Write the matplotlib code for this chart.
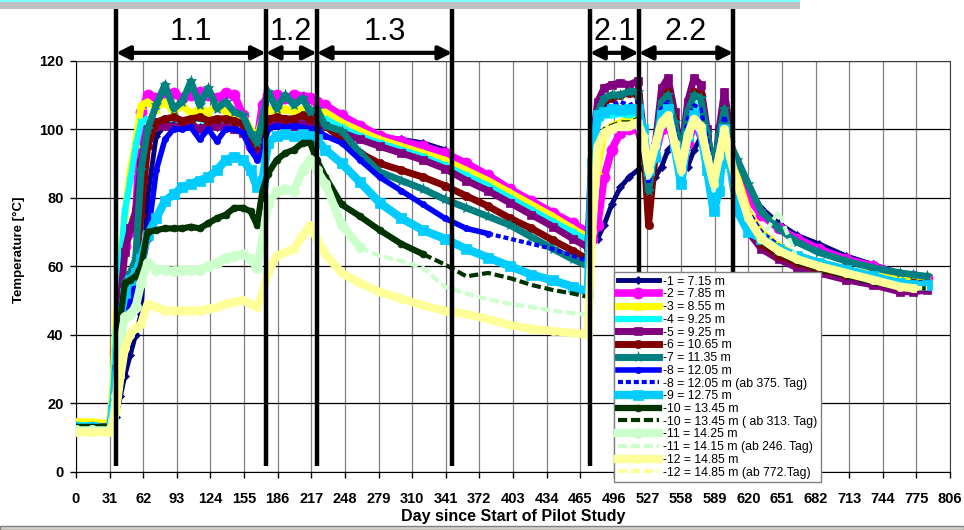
import matplotlib
matplotlib.use('Agg')
import matplotlib.pyplot as plt
from matplotlib.patches import Rectangle
import pandas as pd

plt.rcParams['font.family'] = ['Liberation Sans', 'DejaVu Sans']

# Day grid shared by all probes
days = [0, 15, 31,
        34, 37, 41, 45, 50, 55, 60,
        66, 74, 82, 90, 98, 106, 114, 122, 130, 138, 146, 154, 161, 167, 172,
        177, 185, 193, 201, 209, 216, 222,
        230, 245, 262, 280, 300, 320, 340, 360, 380, 400, 420, 440, 458, 472,
        476, 481, 487, 494, 502, 510, 518,
        523, 528, 534, 540, 546, 552, 558, 564, 570, 576, 582, 588, 593, 598, 603,
        610, 620, 632, 648, 665, 685, 710, 735, 760, 772, 785]

t1 = [13, 13, 13,
      14, 16, 22, 28, 34, 40, 46,
      80, 98, 101, 101.5, 101, 101, 100.5, 101, 100.5, 100.5, 100, 99, 95, 92, 98,
      101, 101.5, 101, 101, 101.5, 101, 102,
      101, 100, 99, 98, 97, 96, 94, 89.5, 86, 82, 78.5, 75, 72, 69.5,
      68, 68, 72, 78, 83, 86, 88,
      89, 87, 86, 89, 94, 96, 92, 89, 94, 97.5, 96, 93, 91, 90, 91,
      89, 82, 77, 72.5, 69, 66.5, 63, 60.5, 58, 57, 56.5]
t2 = [13.5, 13.5, 13.5,
      20, 35, 55, 66, 70, 74, 105,
      110, 109, 110, 110.5, 109, 110, 111, 110, 109, 110.5, 110, 104, 95, 97, 107,
      110, 110, 109, 110, 109.5, 109, 108,
      107, 104, 101, 98, 96.5, 95, 93, 90, 86.5, 82.5, 79, 75.5, 72.5, 70,
      68, 72, 86, 94, 99, 100, 100,
      95, 88, 92, 100, 102, 95, 88, 96, 101, 99, 92, 85, 90, 95, 92,
      88, 80, 75, 71, 68, 65, 62, 60, 57.5, 57, 56.5]
t3 = [14.5, 14.5, 14,
      25, 45, 62, 75, 88, 96, 107,
      108, 106, 108, 105, 107, 104.5, 106, 105, 107, 105, 104.5, 104, 100, 98, 103,
      106, 105, 106, 105, 106, 104, 105,
      105, 102, 99.5, 97, 95, 93, 91, 88, 85, 81.5, 78, 74.5, 71, 68.5,
      72, 88, 99, 101, 102, 103, 103,
      97, 85, 95, 105, 107, 98, 88, 100, 106, 104, 94, 84, 93, 102, 94,
      86, 76, 70, 66, 63, 61, 59, 57.5, 56, 56.5, 57]
t4 = [13.5, 13.5, 13,
      22, 40, 60, 76, 85, 95, 102,
      103, 102, 103, 103, 102.5, 103, 103, 102, 103, 102.5, 102, 101, 97, 96, 100,
      103, 103, 102.5, 103, 103, 102, 103,
      103, 100.5, 98, 96, 94, 92, 89.5, 86.5, 83.5, 80, 76.5, 73, 70, 67.5,
      90, 102, 104, 104, 104.5, 104, 105,
      100, 85, 95, 106, 108, 98, 88, 102, 107, 104, 94, 82, 94, 104, 94,
      82, 74, 69, 65, 62.5, 60, 58, 56.5, 55, 54.5, 54]
t5 = [13, 13, 13,
      18, 30, 50, 64, 71, 76, 90,
      100, 101, 101, 100.5, 101, 101.5, 100, 101, 101, 100.5, 100, 99, 95, 93, 99,
      101, 101.5, 101, 101, 101.5, 101, 101,
      101, 99, 97, 95, 93, 91, 88.5, 85, 82, 78.5, 75, 71.5, 68, 65.5,
      95, 108, 112, 113, 113.5, 113, 114,
      100, 82, 95, 112, 115, 105, 92, 108, 115, 113, 100, 85, 100, 111, 100,
      80, 70, 65, 62, 59.5, 58, 56, 54.5, 52.5, 52.5, 53]
t6 = [13, 13, 13,
      16, 25, 40, 50, 55, 60, 75,
      95, 102, 103, 103.5, 102.5, 103, 103.5, 102.5, 103, 103, 102.5, 101.5, 97, 95, 101,
      103, 103.5, 103, 103, 104, 103, 104,
      101, 97, 93, 90, 88, 86, 83.5, 80.5, 77.5, 74, 71, 67.5, 64.5, 62,
      85, 104, 108, 109, 110, 110.5, 110,
      98, 72, 92, 108, 111, 103, 90, 104, 111, 110, 98, 86, 98, 106, 97,
      80, 71, 66.5, 63, 61, 59, 57.5, 56, 54.5, 55, 55]
t7 = [13, 13, 13,
      16, 24, 40, 55, 58, 62, 88,
      100, 107, 113, 106, 108, 114, 107, 112, 106, 108, 105, 104, 99, 96, 103,
      111, 106, 110, 107, 109, 105, 106,
      101, 99.5, 93, 87.5, 85, 82.5, 79.5, 77, 74.5, 72, 68.5, 65, 62, 60,
      90, 105, 109, 110, 110, 111, 111,
      99, 82, 94, 108, 110, 102, 92, 105, 110, 109, 99, 88, 98, 106, 96,
      91, 84, 76, 71, 67, 64, 61.5, 59.5, 58, 57.5, 57]
t8 = [13, 13, 13,
      15, 20, 35, 46, 50, 54, 58,
      68, 88, 97, 100, 100, 100.5, 97, 100, 96.5, 100, 100, 99, 94, 91, 93,
      100, 101, 100.5, 101, 100.5, 100, 100,
      98, 96, 91, 86, 82, 78, 74, 71, 69.5, 68, 66.5, 65, 63, 61.5,
      88, 104, 106, 107, 108, 107, 108,
      98, 84, 93, 106, 108, 100, 90, 103, 107, 106, 97, 86, 96, 104, 95,
      84, 76, 70, 66, 63, 61, 59, 57, 55.5, 55, 55]
t9 = [13, 13, 12.5,
      18, 28, 45, 52, 56, 58, 62,
      69, 74, 79, 81, 83, 84, 85, 86, 88, 91, 92, 91, 88, 83, 85,
      96, 98, 98.5, 98, 98.5, 98, 97,
      94, 90, 84.5, 78.5, 74, 70.5, 68, 65, 62.5, 60, 57.5, 55.8, 54, 52.5,
      90, 104, 105, 106, 105.5, 106, 106,
      100, 88, 92, 104, 106, 95, 84, 98, 104, 100, 88, 76, 82, 100, 90,
      76, 70, 68, 65, 63, 61, 59, 57, 55, 54.5, 54.5]
t10 = [13, 13, 13,
       16, 25, 45, 55, 56, 57, 60,
       70, 70.5, 71, 71, 71, 71.5, 71, 72.5, 74, 75, 77, 77, 76, 72, 82,
       87, 91, 93, 94, 96, 96, 91,
       86, 78, 74.5, 70.5, 66.5, 63.5, 60.5, 57, 58, 56.5, 54.5, 53, 52, 51,
       70, 96, 100, 101, 102, 102, 103,
       96, 86, 94, 101, 103, 95, 87, 97, 102, 100, 91, 83, 91, 99, 91,
       83, 73, 67, 63.5, 61, 59, 57, 55, 53.5, 53.5, 53.5]
t11 = [12, 12, 12,
       15, 22, 38, 45, 46, 48, 55,
       61, 59, 59, 58.5, 59, 59, 59, 60, 61, 62.5, 63, 63.5, 62, 59.5, 68,
       78, 82, 82.5, 82, 88, 91, 88,
       84, 72, 65.5, 63, 61.5, 59.5, 54, 52, 50.3, 49, 48, 47, 46.2, 45.7,
       65, 94, 98, 99, 100, 100, 101,
       95, 85, 93, 100, 102, 94, 86, 96, 101, 99, 90, 82, 90, 98, 90,
       84, 74, 68, 76, 62, 60, 58, 56, 54, 53.5, 53.5]
t12 = [11.5, 11.5, 11.5,
       13, 18, 28, 36, 40, 42, 43,
       49, 48, 47, 47, 47, 47, 47, 47.5, 48, 49, 49.5, 50, 49, 48, 52,
       58, 63, 64, 65, 69, 72, 68,
       63.5, 58, 55, 52.5, 50.5, 48.5, 47, 46, 44.5, 42.8, 41.7, 41, 40.5, 40,
       70, 95, 99, 100, 101, 101, 102,
       98, 88, 95, 102, 104, 96, 88, 98, 103, 101, 92, 84, 92, 100, 92,
       84, 74, 68, 64.5, 62, 60, 58, 56, 54, 53.5, 53.5]

labels = ['-1 = 7.15 m', '-2 = 7.85 m', '-3 = 8.55 m', '-4 = 9.25 m', '-5 = 9.25 m',
          '-6 = 10.65 m', '-7 = 11.35 m', '-8 = 12.05 m', '-9 = 12.75 m',
          '-10 = 13.45 m', '-11 = 14.25 m', '-12 = 14.85 m']
# later sensor records, drawn as dashed continuation: series index -> (start day, label)
continuations = {7: (375, '-8 = 12.05 m (ab 375. Tag)'),
                 9: (313, '-10 = 13.45 m ( ab 313. Tag)'),
                 10: (246, '-11 = 14.15 m (ab 246. Tag)'),
                 11: (772, '-12 = 14.85 m (ab 772.Tag)')}

phase_days = [37, 175, 222, 347, 474, 519, 606]
phase_spans = [(37, 175), (175, 222), (222, 347), (474, 519), (519, 606)]
phase_names = ['1.1', '1.2', '1.3', '2.1', '2.2']

df = pd.DataFrame({'day': days, 't1': t1, 't2': t2, 't3': t3, 't4': t4, 't5': t5,
                   't6': t6, 't7': t7, 't8': t8, 't9': t9, 't10': t10,
                   't11': t11, 't12': t12})

# colour, marker, marker size, line width
styles = [('#000080', 'D', 4, 3.5),
          ('#FF00FF', 'o', 8, 5.5),
          ('#FFFF00', '^', 6, 5),
          ('#00FFFF', 'x', 5, 4.5),
          ('#800080', 's', 6, 5),
          ('#800000', 'o', 6, 5),
          ('#008080', '*', 8, 5),
          ('#0000FF', 'o', 4.5, 4),
          ('#00CCFF', 's', 7, 6),
          ('#003300', 'o', 5, 4.5),
          ('#CCFFCC', 'o', 7.5, 6),
          ('#FFFF99', 'o', 6, 6)]

fig = plt.figure(figsize=(9.64, 5.30), dpi=100)
ax = fig.add_axes([76 / 964, 58.5 / 530, 874 / 964, 410.8 / 530])

for i, (lab, (col, mk, ms, lw)) in enumerate(zip(labels, styles)):
    y = df['t%d' % (i + 1)]
    if i in continuations:
        start, dlab = continuations[i]
        cut = df.index[df['day'] >= start][0]
        ax.plot(df['day'][:cut + 1], y[:cut + 1], color=col, marker=mk, ms=ms,
                mew=1.5 if mk == 'x' else 0.5, mec=col, lw=lw, label=lab, zorder=3)
        ax.plot(df['day'][cut:], y[cut:], color=col, lw=3,
                ls=(0, (1.2, 0.7)) if i == 7 else (0, (2.2, 0.9)), label=dlab, zorder=3)
    else:
        ax.plot(df['day'], y, color=col, marker=mk, ms=ms,
                mew=1.5 if mk == 'x' else 0.5, mec=col, lw=lw, label=lab, zorder=3)

ax.set_xlim(0, 806)
ax.set_ylim(0, 120)
ax.set_xticks(range(0, 807, 31))
ax.set_yticks(range(0, 121, 20))
ax.tick_params(axis='both', direction='out', length=4, width=1, labelsize=10.5)
ax.tick_params(axis='x', pad=11)
ax.tick_params(axis='y', pad=5)
for t in ax.get_xticklabels() + ax.get_yticklabels():
    t.set_fontweight('bold')
ax.xaxis.grid(True, color='#808080', lw=0.9)
ax.yaxis.grid(True, color='black', lw=0.9)
ax.set_axisbelow(True)
for s in ['top', 'right']:
    ax.spines[s].set_color('#404040')

ax.set_xlabel('Day since Start of Pilot Study', fontsize=11.5, fontweight='bold')
ax.xaxis.set_label_coords(0.5, -0.092)
ax.set_ylabel('Temperature [°C]', fontsize=9.5, fontweight='bold')
ax.yaxis.set_label_coords(-0.058, 0.54)

# phase boundaries, arrows and names
ax.vlines(phase_days, 1.6, 135.4, colors='black', lw=3.2, clip_on=False, zorder=6)
for (x0, x1), name in zip(phase_spans, phase_names):
    ax.annotate('', xy=(x1, 122.3), xytext=(x0, 122.3), annotation_clip=False,
                arrowprops=dict(arrowstyle='<|-|>', color='black', lw=3,
                                mutation_scale=20, shrinkA=0, shrinkB=0))
    ax.text((x0 + x1) / 2, 128.3, name, ha='center', va='center', fontsize=22,
            clip_on=False)

leg = ax.legend(loc='upper left', bbox_to_anchor=(0.6156, 0.4856), borderaxespad=0,
                fontsize=8.8, labelspacing=0.06, handlelength=3.4, handletextpad=0.3,
                borderpad=0.3, fancybox=False, framealpha=1, edgecolor='#808080')
leg.get_frame().set_linewidth(1)
leg.set_zorder(7)

# window chrome visible in the screenshot
fig.add_artist(Rectangle((0, 1 - 9 / 530), 800 / 964, 9 / 530, transform=fig.transFigure,
                         facecolor='#C0C0C0', edgecolor='none', zorder=10))
fig.add_artist(Rectangle((0, 1 - 1.5 / 530), 800 / 964, 1.5 / 530, transform=fig.transFigure,
                         facecolor='#80FFFF', edgecolor='none', zorder=11))
fig.add_artist(Rectangle((0, 0), 1, 4 / 530, transform=fig.transFigure,
                         facecolor='#D4D0C8', edgecolor='#808080', lw=1, zorder=10))

plt.savefig('out.png', dpi=100)
plt.close()
